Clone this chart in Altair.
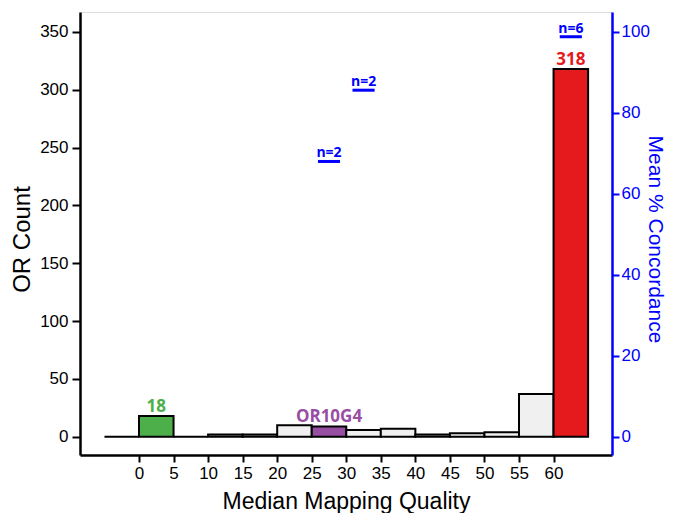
import altair as alt
import pandas as pd

# ---- data ----
bin_start = [-5, 0, 5, 10, 15, 20, 25, 30, 35, 40, 45, 50, 55, 60]
bin_width = 5
or_count = [0, 18, 0, 2, 2, 10, 9, 6, 7, 2, 3, 4, 37, 318]

highlight_bins = [0, 25, 60]
highlight_labels = ["18", "OR10G4", "318"]
highlight_values = [18, 9, 318]

conc_bin_start = [25, 30, 60]
conc_mean = [68, 85.6, 98.8]
conc_labels = ["n=2", "n=2", "n=6"]

x_ticks = list(range(0, 61, 5))
left_ticks = list(range(0, 351, 50))
right_ticks = list(range(0, 101, 20))

# ---- styles ----
GREY = "#F0F0F0"
COLORS = {0: "#4DAF4A", 25: "#984EA3", 60: "#E41A1C"}
BLUE = "#0000FF"
FONT = "Liberation Sans"
BOLD_FONT = "Open Sans"

bars = pd.DataFrame({
    "start": bin_start,
    "end": [s + bin_width for s in bin_start],
    "count": or_count,
    "color": [COLORS.get(s, GREY) for s in bin_start],
})
hl = pd.DataFrame({
    "start": [s + bin_width / 2 for s in highlight_bins],
    "value": highlight_values,
    "label": highlight_labels,
    "color": [COLORS[s] for s in highlight_bins],
})
half = 1.6
conc = pd.DataFrame({
    "start": [s + bin_width / 2 - half for s in conc_bin_start],
    "x2": [s + bin_width / 2 + half for s in conc_bin_start],
    "center": [s + bin_width / 2 for s in conc_bin_start],
    "mean": conc_mean,
    "label": conc_labels,
})

x_scale = alt.Scale(domain=[-8.54, 68.46], nice=False, zero=False)
yl_scale = alt.Scale(domain=[-15.7, 367.2], nice=False, zero=False)
yr_scale = alt.Scale(domain=[-4.486, 104.91], nice=False, zero=False)

x_axis = alt.Axis(
    values=x_ticks, title="Median Mapping Quality", grid=False,
    domainColor="black", domainWidth=2.5, tickColor="black", tickWidth=2,
    tickSize=7, labelFont=FONT, labelFontSize=17, labelColor="black",
    labelPadding=3, titleFont=FONT, titleFontSize=23, titleFontWeight="normal",
    titleColor="black", titleBaseline="alphabetic", titleY=53,
)


def X(field):
    return alt.X(field, scale=x_scale, axis=x_axis, title="Median Mapping Quality")


bar_layer = alt.Chart(bars).mark_bar(stroke="black", strokeWidth=2).encode(
    x=X("start:Q"),
    x2="end:Q",
    y=alt.Y("count:Q", scale=yl_scale, axis=alt.Axis(
        values=left_ticks, title="OR Count", orient="left", grid=False,
        domainColor="black", domainWidth=2.5, tickColor="black", tickWidth=2,
        tickSize=8, labelFont=FONT, labelFontSize=17, labelColor="black",
        labelPadding=4, titleFont=FONT, titleFontSize=24,
        titleFontWeight="normal", titleColor="black",
        titleAngle=-90, titleAlign="center", titleBaseline="middle",
        titleX=-58, titleY=227,
    )),
    y2=alt.datum(0),
    fill=alt.Fill("color:N", scale=None),
)

bar_text = alt.Chart(hl).mark_text(
    font=BOLD_FONT, fontWeight="bold", fontSize=17, baseline="alphabetic", dy=-4
).encode(
    x=X("start:Q"),
    y=alt.Y("value:Q", scale=yl_scale, axis=None),
    text="label:N",
    color=alt.Color("color:N", scale=None),
)

seg = alt.Chart(conc).mark_rule(color=BLUE, strokeWidth=3).encode(
    x=X("start:Q"),
    x2="x2:Q",
    y=alt.Y("mean:Q", scale=yr_scale, axis=alt.Axis(
        values=right_ticks, title="Mean % Concordance", orient="right",
        grid=False, domainColor=BLUE, domainWidth=2.5, tickColor=BLUE,
        tickWidth=2, tickSize=7, labelFont=FONT, labelFontSize=17,
        labelColor=BLUE, labelPadding=2, titleFont=FONT, titleFontSize=21,
        titleFontWeight="normal", titleColor=BLUE, titleAngle=90,
        titleAlign="center", titleBaseline="middle", titleX=42, titleY=227,
    )),
)

seg_text = alt.Chart(conc).mark_text(
    font=BOLD_FONT, fontWeight="bold", fontSize=14, color=BLUE,
    baseline="alphabetic", dy=-4
).encode(
    x=alt.X("center:Q", scale=x_scale, axis=x_axis, title="Median Mapping Quality"),
    y=alt.Y("mean:Q", scale=yr_scale, axis=None),
    text="label:N",
)

chart = alt.layer(bar_layer, bar_text, seg, seg_text).resolve_scale(
    y="independent"
).properties(
    width=532, height=443,
    autosize=alt.AutoSizeParams(type="none"),
    padding={"left": 72, "top": 4, "right": 55, "bottom": 58},
).configure_view(stroke=None).configure(background="white")

chart.save("out.html", embed_options={"renderer": "svg", "actions": False})
